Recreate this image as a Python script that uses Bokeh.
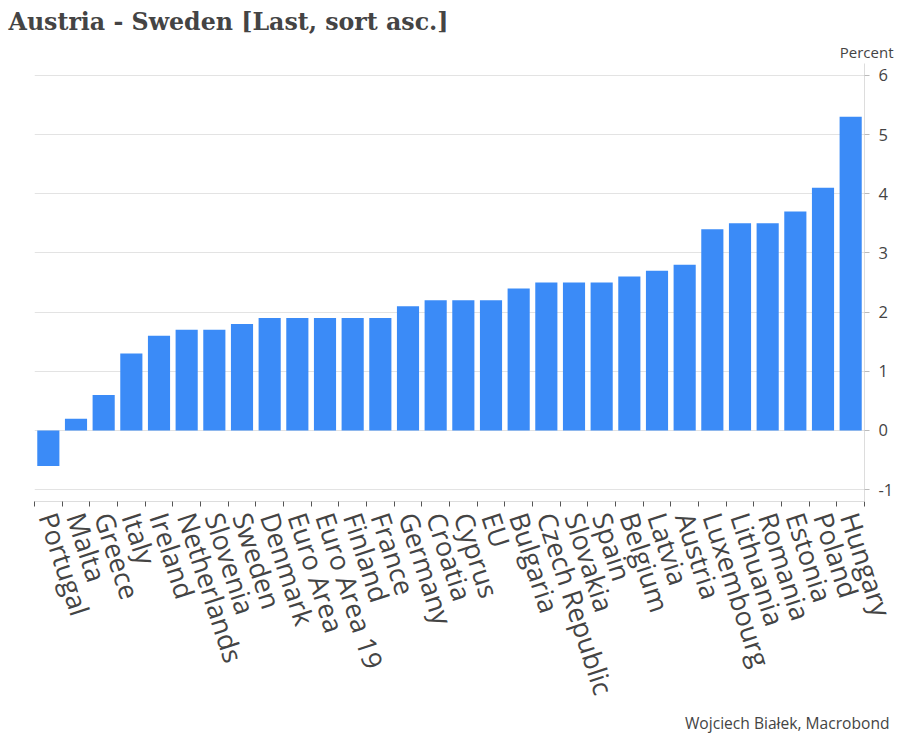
import math
from bokeh.plotting import figure
from bokeh.models import Range1d, FixedTicker, Title, CustomJSTickFormatter
from bokeh.embed import file_html
from bokeh.resources import INLINE

countries = ["Portugal", "Malta", "Greece", "Italy", "Ireland", "Netherlands", "Slovenia",
             "Sweden", "Denmark", "Euro Area", "Euro Area 19", "Finland", "France", "Germany",
             "Croatia", "Cyprus", "EU", "Bulgaria", "Czech Republic", "Slovakia", "Spain",
             "Belgium", "Latvia", "Austria", "Luxembourg", "Lithuania", "Romania", "Estonia",
             "Poland", "Hungary"]
values = [-0.6, 0.2, 0.6, 1.3, 1.6, 1.7, 1.7,
          1.8, 1.9, 1.9, 1.9, 1.9, 1.9, 2.1,
          2.2, 2.2, 2.2, 2.4, 2.5, 2.5, 2.5,
          2.6, 2.7, 2.8, 3.4, 3.5, 3.5, 3.7,
          4.1, 5.3]
y_ticks = [-1, 0, 1, 2, 3, 4, 5, 6]

title_text = "Austria - Sweden [Last, sort asc.]"
unit_text = "Percent"
source_text = "Wojciech Białek, Macrobond"

n = len(countries)
idx = list(range(n))

p = figure(width=900, height=745, output_backend="svg", toolbar_location=None,
           x_range=Range1d(-0.5, n - 0.5), y_range=Range1d(-1.2, 6.2),
           y_axis_location="right", min_border_left=34, min_border_right=36,
           min_border_top=63, min_border_bottom=244)
p.title.text = ""
p.outline_line_color = None
p.background_fill_color = "white"
p.border_fill_color = "white"

p.vbar(x=idx, top=values, width=0.8, fill_color="#3B8BF7", line_color=None)

# x axis
xa = p.xaxis[0]
xa.ticker = FixedTicker(ticks=idx, minor_ticks=[i - 0.5 for i in range(n + 1)])
xa.formatter = CustomJSTickFormatter(args=dict(names=countries),
                                     code="const i = Math.round(tick); return (i >= 0 && i < names.length) ? names[i] : '';")
xa.major_label_orientation = -math.radians(72)
xa.major_label_text_font = "Open Sans"
xa.major_label_text_font_size = "27px"
xa.major_label_text_color = "#444444"
xa.major_tick_line_color = None
xa.minor_tick_line_color = "#555555"
xa.minor_tick_in = 0
xa.minor_tick_out = 5
xa.axis_line_color = "#dddddd"
xa.major_label_standoff = 6

# y axis
ya = p.yaxis[0]
ya.ticker = FixedTicker(ticks=y_ticks)
ya.formatter = CustomJSTickFormatter(code="return String(Math.round(tick));")
ya.major_label_text_font = "Open Sans"
ya.major_label_text_font_size = "16.5px"
ya.major_label_text_color = "#444444"
ya.axis_line_color = "#dddddd"
ya.major_tick_line_color = "#bbbbbb"
ya.major_tick_in = 0
ya.major_tick_out = 5
ya.minor_tick_line_color = None
ya.major_label_standoff = 9

p.xgrid.grid_line_color = None
p.ygrid.ticker = FixedTicker(ticks=y_ticks)
p.ygrid.grid_line_color = "#e3e3e3"

t_unit = Title(text=unit_text, align="right", text_font="Open Sans", text_font_size="15px",
               text_font_style="normal", text_color="#444444", offset=-29, standoff=4)
p.add_layout(t_unit, "above")
t_main = Title(text=title_text, align="left", text_font="DejaVu Serif", text_font_size="23.7px",
               text_font_style="bold", text_color="#444444", offset=-26, standoff=3)
p.add_layout(t_main, "above")

t_src = Title(text=source_text, align="right", text_font="Open Sans", text_font_size="15.6px",
              text_font_style="normal", text_color="#444444", offset=-25, standoff=4)
p.add_layout(t_src, "below")

open("out.html", "w").write(file_html(p, INLINE))
